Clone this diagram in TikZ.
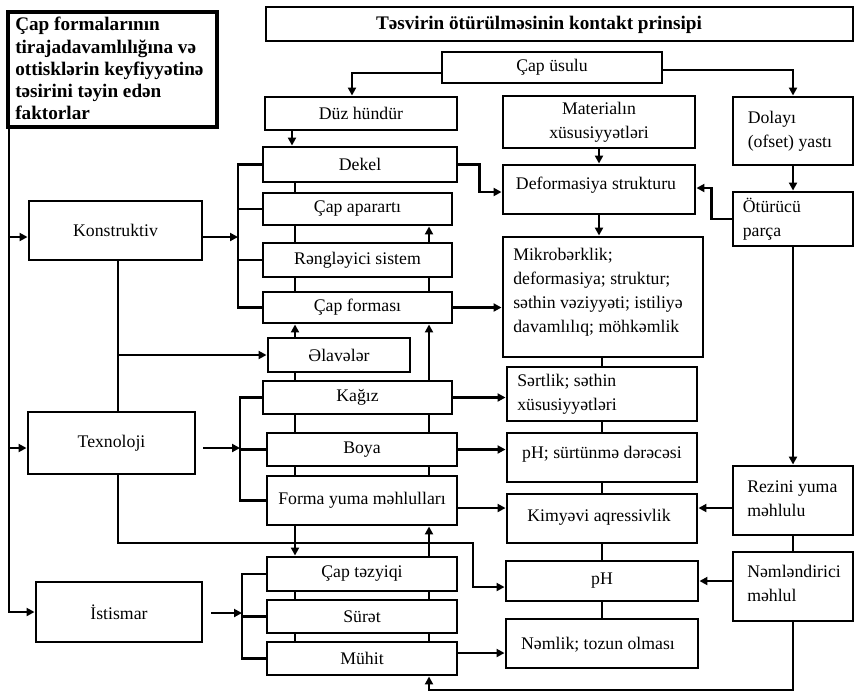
\documentclass[tikz,border=0pt]{standalone}
\usepackage{fontspec}
\setmainfont{Liberation Serif}
\usetikzlibrary{arrows.meta,calc}
% \mybox[options]{name}{left}{top}{right}{bottom}{text}
\newcommand\mybox[7][]{%
  \node[box,#1, minimum width={(#5-#3)*0.75pt}, minimum height={(#6-#4)*0.75pt}]
    (#2) at ({(#3+#5)/2},{(#4+#6)/2}) {#7};}
\begin{document}
\begin{tikzpicture}[x=0.75pt,y=-0.75pt,
 box/.style={draw, line width=2.2pt, inner sep=0pt, font=\fontsize{13.3pt}{18pt}\selectfont, align=center},
 thickbox/.style={line width=3.4pt},
 txt/.style={inner sep=0pt, font=\fontsize{13.3pt}{18pt}\selectfont, align=left},
 ttl/.style={inner sep=0pt, font=\fontsize{14.4pt}{16.7pt}\selectfont\bfseries, align=left},
 conn/.style={line width=2.2pt},
 arr/.style={conn, -{Triangle[length=6pt,width=6pt]}},
 line join=miter]
\useasboundingbox (0,0) rectangle (855,694);

% ---- boxes ----
\mybox[thickbox]{title}{8}{12}{217}{127}{}
\node[ttl, anchor=north west] (titletext) at (15,17) {Çap formalarının\\tirajadavamlılığına və\\ottisklərin keyfiyyətinə\\təsirini təyin edən\\faktorlar};
\mybox{princ}{266}{7}{853}{41}{}
\node[ttl] (princtext) at (539,25) {Təsvirin ötürülməsinin kontakt prinsipi};

\mybox{capusulu}{442}{52}{662}{83}{Çap üsulu}
\mybox{duz}{265}{97}{457}{130}{Düz hündür}
\mybox{mat}{503}{96}{695}{148}{Materialın\\xüsusiyyətləri}
\mybox{dolayi}{733}{97}{853}{165}{}
\node[txt, anchor=west] (dolayitext) at ($(dolayi.west)+(16,0)$) {Dolayı\\(ofset) yastı};

\mybox{dekel}{263}{147}{457}{182}{Dekel}
\mybox{capap}{263}{193}{452}{225}{Çap aparartı}
\mybox{reng}{263}{243}{452}{277}{Rəngləyici sistem}
\mybox{capform}{263}{292}{452}{323}{Çap forması}
\mybox{elav}{268}{338}{410}{372}{Əlavələr}
\mybox{kagiz}{263}{381}{452}{414}{Kağız}
\mybox{boya}{267}{433}{457}{466}{Boya}
\mybox{forma}{267}{476}{457}{525}{Forma yuma məhlulları}
\mybox{captez}{267}{557}{457}{591}{Çap təzyiqi}
\mybox{surat}{267}{600}{457}{633}{Sürət}
\mybox{muhit}{267}{642}{457}{675}{Mühit}

\mybox{konst}{29}{201}{202}{260}{Konstruktiv}
\mybox{texn}{28}{412}{195}{474}{Texnoloji}
\mybox{istis}{36}{582}{202}{642}{İstismar}

\mybox{deform}{503}{165}{695}{214}{}
\node[txt] (deformtext) at (596,185) {Deformasiya strukturu};
\mybox{oturucu}{733}{192}{853}{246}{}
\node[txt, anchor=west] (oturucutext) at ($(oturucu.west)+(11,0)$) {Ötürücü\\parça};
\mybox{mikro}{503}{237}{703}{357}{}
\node[txt, anchor=west] (mikrotext) at (513,292) {Mikrobərklik;\\deformasiya; struktur;\\səthin vəziyyəti; istiliyə\\davamlılıq; möhkəmlik};
\mybox{sert}{507}{367}{697}{421}{}
\node[txt, anchor=west] (serttext) at (517,394) {Sərtlik; səthin\\xüsusiyyətləri};
\mybox{phs}{507}{433}{697}{482}{}
\node[txt] (phstext) at (602,454) {pH; sürtünmə dərəcəsi};
\mybox{kim}{507}{494}{697}{543}{}
\node[txt] (kimtext) at (599,517) {Kimyəvi aqressivlik};
\mybox{rez}{733}{466}{853}{535}{}
\node[txt, anchor=west] (reztext) at (747,499) {Rezini yuma\\məhlulu};
\mybox{ph}{506}{561}{698}{601}{pH}
\mybox{nem}{506}{619}{698}{668}{}
\node[txt] (nemtext) at (598,645) {Nəmlik; tozun olması};
\mybox{neml}{733}{552}{853}{621}{}
\node[txt, anchor=west] (nemltext) at (747,583) {Nəmləndirici\\məhlul};

% ---- helper coordinates ----
\coordinate (cL) at (295,0);
\coordinate (cR) at (429,0);
\coordinate (ml) at (9,0);
\coordinate (kx) at (118,0);
\coordinate (kb) at (238,237);
\coordinate (tb) at (240,448);
\coordinate (ib) at (242,613);
\coordinate (tx1) at (473,543);
\coordinate (tx2) at (473,587);
\coordinate (ky) at (0,508);
\coordinate (my) at (0,653);
\coordinate (bot) at (429,690);
\coordinate (dz) at (352,73);
\coordinate (cu) at (0,70);
\coordinate (dx) at (292,0);
\coordinate (dy) at (0,192);
\coordinate (dy2) at (0,188);

% ---- top connectors ----
\draw[arr] (dz -| capusulu.west) -| (duz.north -| dz);
\draw[arr] (capusulu.east |- cu) -| (dolayi.north);
\draw[arr] (duz.south -| dx) -- (dekel.north -| dx);
\draw[arr] (mat.south) -- (mat.south |- deform.north);
\draw[arr] (dekel.east) -- ++(21,0) |- (deform.west |- dy);
\draw[arr] (oturucu.west) -- ++(-20,0) |- (deform.east |- dy2);
\draw[arr] (dolayi.south) -- (oturucu.north);
\draw[arr] (oturucu.south) -- (rez.north);
\draw[conn] (rez.south) -- (neml.north);
\draw[arr] (neml.south) |- (bot) -- (bot |- muhit.south);

% ---- right chain of left column ----
\draw[conn] (cR |- muhit.north) -- (cR |- surat.south);
\draw[conn] (cR |- surat.north) -- (cR |- captez.south);
\draw[arr] (cR |- captez.north) -- (cR |- forma.south);
\draw[conn] (cR |- forma.north) -- (cR |- boya.south);
\draw[conn] (cR |- boya.north) -- (cR |- kagiz.south);
\draw[arr] (cR |- kagiz.north) -- (cR |- capform.south);
\draw[conn] (cR |- capform.north) -- (cR |- reng.south);
\draw[arr] (cR |- reng.north) -- (cR |- capap.south);

% ---- left chain of left column ----
\draw[conn] (cL |- dekel.south) -- (cL |- capap.north);
\draw[conn] (cL |- capap.south) -- (cL |- reng.north);
\draw[conn] (cL |- reng.south) -- (cL |- capform.north);
\draw[arr] (cL |- elav.north) -- (cL |- capform.south);
\draw[conn] (cL |- elav.south) -- (cL |- kagiz.north);
\draw[conn] (cL |- kagiz.south) -- (cL |- boya.north);
\draw[conn] (cL |- boya.south) -- (cL |- forma.north);
\draw[arr] (cL |- forma.south) -- (cL |- captez.north);
\draw[conn] (cL |- captez.south) -- (cL |- surat.north);
\draw[conn] (cL |- surat.south) -- (cL |- muhit.north);

% ---- Konstruktiv ----
\draw[arr] (kb -| konst.east) -- (kb);
\draw[conn] (dekel.west) -| (kb |- capform.west) -- (capform.west);
\draw[conn] (capap.west -| kb) -- (capap.west);
\draw[conn] (reng.west -| kb) -- (reng.west);
\draw[conn] (konst.south -| kx) -- (texn.north -| kx);
\draw[arr] (elav.west -| kx) -- (elav.west);

% ---- Texnoloji ----
\draw[arr, shorten <=5pt] (tb -| texn.east) -- (tb);
\draw[conn] (kagiz.west) -| (tb |- forma.west) -- (forma.west);
\draw[conn] (boya.west -| tb) -- (boya.west);
\draw[arr] (texn.south -| kx) |- (tx1) -- (tx2) -- (tx2 -| ph.west);

% ---- Istismar ----
\draw[arr, shorten <=6pt] (ib -| istis.east) -- (ib);
\draw[conn] (captez.west) -| (ib |- muhit.west) -- (muhit.west);
\draw[conn] (surat.west -| ib) -- (surat.west);

% ---- main left line ----
\draw[arr] (title.south -| ml) |- (istis.west);
\draw[arr] (kb -| ml) -- (kb -| konst.west);
\draw[arr] (tb -| ml) -- (tb -| texn.west);

% ---- middle column ----
\draw[arr] (deform.south) -- (deform.south |- mikro.north);
\draw[arr] (capform.east) -- (capform.east -| mikro.west);
\draw[conn] (sert.north |- mikro.south) -- (sert.north);
\draw[conn] (sert.south) -- (phs.north);
\draw[conn] (phs.south) -- (kim.north);
\draw[conn] (kim.south) -- (ph.north);
\draw[conn] (ph.south) -- (nem.north);
\draw[arr] (kagiz.east) -- (kagiz.east -| sert.west);
\draw[arr] (boya.east) -- (boya.east -| phs.west);
\draw[arr] (ky -| forma.east) -- (ky -| kim.west);
\draw[arr] (ky -| rez.west) -- (ky -| kim.east);
\draw[arr] (ph.east -| neml.west) -- (ph.east);
\draw[arr] (my -| muhit.east) -- (my -| nem.west);
\end{tikzpicture}
\end{document}
